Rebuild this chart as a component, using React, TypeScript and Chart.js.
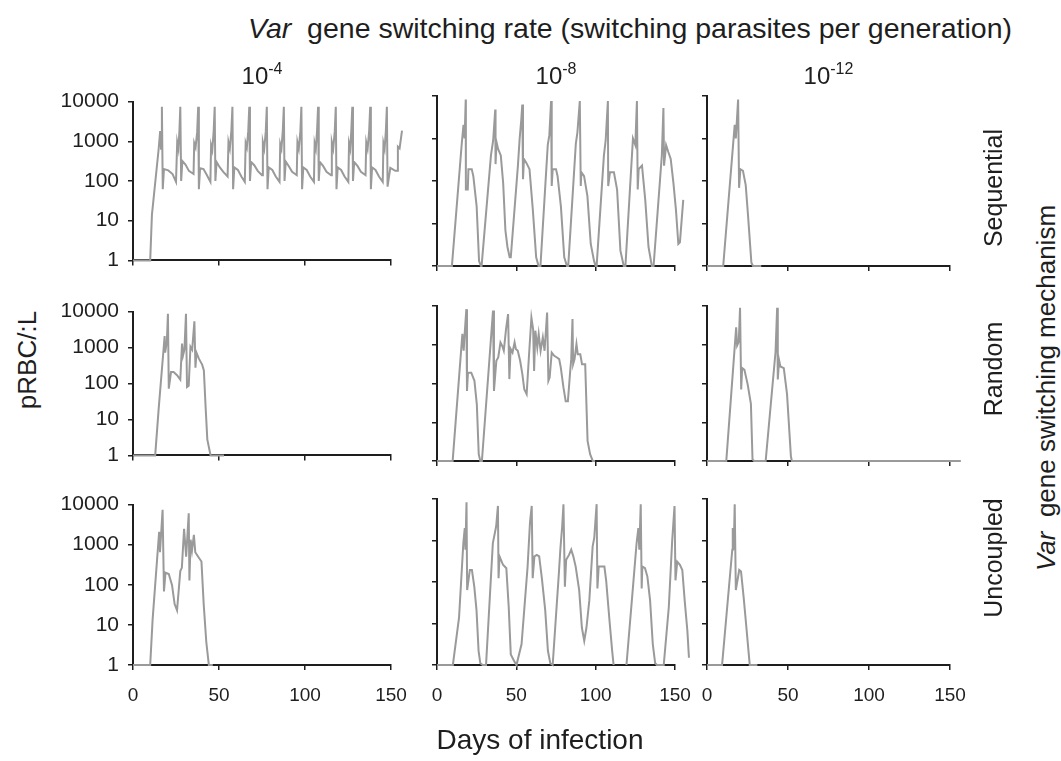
import React, { useEffect, useRef } from "react";
import { Chart, registerables } from "chart.js";
Chart.register(...registerables);

const FONT = '"Liberation Sans", Arial, Helvetica, sans-serif';

// ---------- tick labels / categories ----------
const xTicks = [0, 50, 100, 150];
const yTicks = [1, 10, 100, 1000, 10000];
const rateExponents = ["-4", "-8", "-12"];
const mechanisms = ["Sequential", "Random", "Uncoupled"];

// ---------- Sequential, 10^-4 ----------
const seq4Days = [
  0, 10, 11, 14.9, 15.8, 16.3, 16.8,
  17.3, 18, 20.5, 23, 25, 25.7, 26.4, 27, 27.5,
  28, 28.7, 30.5, 32.5, 35.2, 35.6, 36.4, 37.3, 37.9,
  38.3, 39, 41, 43, 45, 45.4, 46.1, 46.9, 47.5,
  47.9, 48.6, 50.5, 52.5, 55, 55.5, 56.3, 57.2, 57.8,
  58.2, 58.9, 61, 63, 65, 65.5, 66.2, 67, 67.6,
  68, 68.7, 70.5, 72.5, 75, 75.5, 76.3, 77.2, 77.8,
  78.2, 78.9, 81, 83, 85.2, 85.6, 86.3, 87.1, 87.7,
  88.1, 88.8, 90.5, 92.5, 95.2, 95.6, 96.4, 97.3, 97.9,
  98.3, 99, 101, 103, 105.2, 105.6, 106.3, 107, 107.6,
  108, 108.7, 110.5, 112.5, 115.2, 115.6, 116.4, 117.3, 117.9,
  118.3, 119, 121, 123, 125.2, 125.6, 126.3, 126.9, 127.5,
  127.9, 128.6, 130.5, 132.5, 135.2, 135.6, 136.4, 137.3, 137.9,
  138.3, 139, 141, 143, 145.2, 145.6, 146.3, 147, 147.6,
  148, 149.6, 152.5, 153.6, 154, 155, 156.4,
];
const seq4Vals = [
  1, 1, 14, 630, 1800, 650, 7400,
  62, 200, 185, 150, 95, 950, 650, 1900, 7400,
  100, 320, 260, 180, 150, 900, 700, 1700, 7400,
  62, 210, 200, 140, 95, 800, 600, 1800, 7400,
  100, 300, 220, 170, 130, 950, 650, 1900, 7400,
  62, 220, 190, 130, 95, 900, 700, 1800, 7400,
  100, 300, 250, 180, 140, 950, 650, 1800, 7400,
  62, 220, 190, 130, 95, 850, 650, 1900, 7400,
  100, 310, 240, 170, 140, 950, 650, 1800, 7400,
  62, 220, 190, 130, 95, 900, 650, 1800, 7400,
  100, 300, 240, 170, 140, 950, 650, 1800, 7400,
  62, 220, 190, 130, 95, 900, 650, 1800, 7400,
  100, 300, 240, 170, 140, 950, 650, 1800, 7400,
  62, 220, 190, 130, 95, 900, 650, 1800, 7400,
  72, 215, 180, 180, 730, 660, 1850,
];

// ---------- Sequential, 10^-8 ----------
const seq8Days = [
  0, 9.4, 15.6, 16.7, 17.4, 18.1, 18.2, 19.4, 19.8, 21.9, 22.9, 25, 26.5, 27.7, 28.1,
  34, 35.4, 36.7, 36.9, 37.5, 38.5, 40.2, 41.7, 43.1, 44.4, 45.8, 46.5,
  51, 52.1, 53.1, 53.75, 54.2, 54.8, 56.25, 58.3, 60.4, 62.5, 64, 65.2,
  69.8, 70.8, 71.9, 72.3, 72.9, 75, 76, 78.1, 80.2, 81.9, 82.7,
  87.5, 88.5, 90, 90.6, 91, 92.7, 94.8, 96.9, 99, 100, 100.6,
  105.2, 106.3, 107.7, 107.9, 109, 111.5, 113.5, 115.6, 117.7, 118.75,
  123.5, 125, 126, 126.5, 127.1, 129.2, 131.25, 133.3, 135.4, 136.5,
  141.7, 142.7, 143.1, 144.4, 145.8, 147.3, 149, 150.6, 152.1, 153.1, 155.2,
];
const seq8Vals = [
  1, 1, 760, 2100, 1000, 8300, 63, 63, 190, 190, 130, 25, 1.3, 1, 1,
  400, 900, 4800, 250, 830, 570, 400, 90, 7, 2.8, 1.6, 1.6,
  230, 1000, 2700, 6300, 110, 330, 270, 190, 21, 1.6, 1, 1,
  700, 1200, 7600, 76, 190, 190, 130, 25, 1.6, 1, 1,
  760, 1400, 7600, 76, 160, 130, 44, 3.3, 1.3, 1, 1,
  400, 900, 7600, 76, 160, 160, 63, 2.3, 1, 1,
  1000, 700, 7600, 63, 190, 230, 36, 2.8, 1, 1,
  400, 5200, 230, 700, 480, 330, 90, 21, 3.3, 3.6, 36,
];

// ---------- Sequential, 10^-12 ----------
const seq12Days = [0, 10, 17.1, 17.8, 19.2, 19.8, 20.6, 22.2, 23.9, 25.3, 27.4, 28.4, 33.5];
const seq12Vals = [1, 1, 2100, 1000, 8300, 69, 190, 174, 80, 16, 1.2, 1, 1];

// ---------- Random, 10^-4 ----------
const rand4Days = [
  0, 12.9, 14.9, 18.4, 18.7, 19.7, 20.3, 20.8, 22.1, 23.6, 25.6, 27.5, 28.5, 29.1, 29.9,
  30.8, 31.4, 32.4, 33.4, 34.4, 35.7, 36.3, 36.9, 38.3, 40.2, 41.2, 42.2, 43.2, 45.1, 52.9,
];
const rand4Vals = [
  1, 1, 19, 2100, 720, 1500, 8700, 72, 208, 208, 170, 128, 1290, 600, 870,
  8700, 80, 87, 1050, 870, 5400, 275, 720, 490, 335, 230, 23, 2.8, 1, 1,
];

// ---------- Random, 10^-8 ----------
const rand8Days = [
  0, 9.86, 16.0, 16.8, 17.5, 18.5, 18.9, 19.5, 21.6, 23.6, 25.1, 26.3, 27.3, 28.3,
  30.8, 33.9, 35.3, 35.9, 37.4, 38.6, 40.0, 41.1, 42.1, 43.5, 44.8, 45.6, 46.4, 47.6, 48.9, 49.7, 50.9, 52.4, 53.8, 55.0, 56.5,
  57.9, 59.5, 60.6, 61.2, 62.0, 63.2, 64.1, 65.3, 66.7, 67.8, 69.4, 70.2, 71.0, 72.3, 73.9, 75.6, 77.0, 78.0, 79.7, 81.1, 82.5,
  83.8, 84.6, 85.4, 85.8, 86.7, 87.9, 88.7, 90.3, 91.4, 93.4, 94.9, 96.5, 98.2, 99.6,
];
const rand8Vals = [
  1, 1, 1900, 700, 2100, 8300, 64, 190, 190, 117, 29, 1.5, 1, 1,
  24, 1260, 7600, 64, 385, 470, 1150, 940, 700, 2500, 6200, 130, 780, 630, 1150, 780, 700, 385, 174, 71, 53,
  470, 5000, 2500, 210, 2300, 850, 1900, 700, 1550, 700, 6800, 117, 142, 630, 520, 470, 425, 260, 79, 35, 35,
  175, 425, 4600, 315, 425, 1040, 570, 570, 315, 315, 3.3, 1.5, 1, 1,
];

// ---------- Random, 10^-12 ----------
const rand12Days = [
  0, 11.9, 18.0, 18.6, 19.6, 20.4, 21.1, 21.7, 23.1, 25.1, 27.1, 28.1, 29.1, 36.2,
  42.3, 43.3, 43.7, 44.5, 45.3, 47.4, 49.4, 51.8, 52.4, 156.7,
];
const rand12Vals = [
  1, 1, 2800, 960, 1200, 9000, 70, 250, 225, 95, 30, 1.1, 1, 1,
  650, 9000, 127, 400, 275, 250, 53, 1.3, 1, 1,
];

// ---------- Uncoupled, 10^-4 ----------
const unc4Days = [
  0, 10, 11.4, 15.2, 15.7, 17.2, 18, 18.9, 20.8, 22.7,
  24.2, 25.6, 27.5, 28.4, 29.7, 30.9, 32.4, 32.8, 33.5, 34.3,
  35.4, 36.2, 37.9, 39.8, 41.1, 42.6, 44.1, 46.4,
];
const unc4Vals = [
  1, 1, 13.5, 2100, 650, 7400, 68, 200, 185, 98,
  33, 23, 220, 265, 2500, 500, 6100, 128, 1330, 710,
  1750, 650, 500, 380, 33, 3.8, 1, 1,
];

// ---------- Uncoupled, 10^-8 ----------
const unc8Days = [
  0, 10, 13.9, 16.6, 17.5, 17.9, 18.6, 19, 20.7, 22, 23.5, 24.9, 26.2, 27.3, 28.8, 30.9,
  35.2, 37.3, 38.4, 38.8, 39.4, 41.6, 43.7, 45.2, 46.5, 48.6, 50.1,
  53.3, 57.1, 58.6, 59.7, 60.3, 61.4, 62.9, 64.4, 66.1, 68.2, 69.9, 71.4, 72.9,
  76.8, 77.8, 78.9, 79.7, 80.6, 81.4, 83.2, 84.6, 85.9, 87.4,
  89.6, 91.3, 92.8, 94.2, 96.0, 98.1, 99.1, 100.6, 101.1, 101.9,
  105.5, 106.6, 108.7, 110.4, 111.3,
  115,
  119.4, 123.7, 125.8, 126.9, 127.5, 128.4, 129.0, 129.4, 131.1, 132.6,
  134.3, 136.0, 137.5, 138.6, 142.9,
  146.1, 148.2, 149.7, 150.3, 151.4, 153.1, 154.6, 156.1, 157.8, 158.8,
];
const unc8Vals = [
  1, 1, 14, 870, 2000, 600, 8300, 64, 195, 195, 77, 21, 2.2, 1.1, 1, 1,
  870, 2200, 6800, 123, 415, 260, 215, 25, 1.8, 1.25, 1,
  3.2, 235, 2700, 6800, 123, 415, 450, 415, 123, 21, 2.2, 1.1, 1,
  160, 660, 2200, 7500, 77, 345, 450, 600, 415, 235,
  64, 8, 3.8, 8, 36, 720, 1150, 7500, 70, 235,
  235, 110, 12, 2.2, 1,
  null,
  1, 93, 870, 2000, 600, 7500, 70, 235, 215, 135,
  36, 3.2, 1.1, 1, 1,
  25, 950, 6800, 110, 310, 260, 195, 36, 6.7, 1.5,
];

// ---------- Uncoupled, 10^-12 ----------
const unc12Days = [0, 9.3, 15.6, 15.9, 16.5, 17.1, 17.8, 19.9, 21.0, 22.6, 24.1, 25.6, 26.4, 31.1];
const unc12Vals = [1, 1, 600, 2000, 600, 7500, 64, 195, 180, 44, 10, 2.2, 1, 1];

const seriesGrid = [
  [[seq4Days, seq4Vals], [seq8Days, seq8Vals], [seq12Days, seq12Vals]],
  [[rand4Days, rand4Vals], [rand8Days, rand8Vals], [rand12Days, rand12Vals]],
  [[unc4Days, unc4Vals], [unc8Days, unc8Vals], [unc12Days, unc12Vals]],
];

// ---------- layout (plot-area rectangles in page pixels) ----------
const COLS = [
  [133, 391],
  [437, 675],
  [707, 950],
];
const ROWS = [
  [96, 266],
  [306, 461],
  [499, 665],
];

const INK = "#1e1e1e";
const LINE = "#9a9a9a";

function Panel({ row, col }: { row: number; col: number }) {
  const ref = useRef<HTMLCanvasElement | null>(null);
  const [L, R] = COLS[col];
  const [T, B] = ROWS[row];
  const YW = col === 0 ? 80 : 26;
  const XH = row === 2 ? 48 : 16;
  const PT = 16;
  const PR = 36;
  const w = R - L + YW + PR;
  const h = B - T + PT + XH;
  const [days, vals] = seriesGrid[row][col] as [number[], (number | null)[]];

  useEffect(() => {
    if (!ref.current) return;
    const chart = new Chart(ref.current, {
      type: "line",
      data: {
        datasets: [
          {
            data: days.map((d, i) => ({ x: d, y: vals[i] })) as any,
            borderColor: LINE,
            borderWidth: 2,
            pointRadius: 0,
            tension: 0,
            clip: false as any,
            spanGaps: false,
          },
        ],
      },
      options: {
        animation: false,
        responsive: false,
        devicePixelRatio: 1,
        events: [],
        layout: { padding: { top: PT, right: PR, left: 0, bottom: 0 } },
        plugins: { legend: { display: false }, tooltip: { enabled: false } },
        scales: {
          x: {
            type: "linear",
            bounds: "data",
            afterDataLimits: (s: any) => {
              s.min = 0;
              s.max = 150;
            },
            afterBuildTicks: (s: any) => {
              s.ticks = xTicks.map((v) => ({ value: v }));
            },
            afterFit: (s: any) => {
              s.height = XH;
            },
            ticks: {
              display: row === 2,
              autoSkip: false,
              maxRotation: 0,
              padding: 14,
              color: INK,
              font: { family: FONT, size: 19 },
              callback: (v: any) => String(v),
            },
            grid: {
              display: true,
              drawOnChartArea: false,
              drawTicks: true,
              tickLength: 5,
              color: INK,
              lineWidth: 1.5,
            },
            border: { display: true, color: INK, width: 2 },
          },
          y: {
            type: "logarithmic",
            min: 1,
            max: 10000,
            afterBuildTicks: (s: any) => {
              s.ticks = yTicks.map((v) => ({ value: v }));
            },
            afterFit: (s: any) => {
              s.width = YW;
            },
            ticks: {
              display: col === 0,
              autoSkip: false,
              padding: 9,
              color: INK,
              font: { family: FONT, size: 21 },
              callback: (v: any) => String(v),
            },
            grid: {
              display: true,
              drawOnChartArea: false,
              drawTicks: true,
              tickLength: 5,
              color: INK,
              lineWidth: 1.5,
            },
            border: { display: true, color: INK, width: 2 },
          },
        },
      } as any,
    });
    return () => chart.destroy();
  }, []);

  return (
    <canvas
      ref={ref}
      width={w}
      height={h}
      style={{ position: "absolute", left: L - YW, top: T - PT, width: w, height: h }}
    />
  );
}

const textBase: React.CSSProperties = {
  position: "absolute",
  fontFamily: FONT,
  color: INK,
  whiteSpace: "nowrap",
  lineHeight: 1,
};

export default function App() {
  const panels: JSX.Element[] = [];
  for (let r = 0; r < 3; r++) {
    for (let c = 0; c < 3; c++) {
      panels.push(<Panel key={`${r}-${c}`} row={r} col={c} />);
    }
  }
  const colCenters = COLS.map(([a, b]) => (a + b) / 2);
  const rowLabelY = [188, 369, 558];
  return (
    <div
      style={{
        position: "absolute",
        left: 0,
        top: 0,
        width: 1061,
        height: 761,
        background: "#fff",
        overflow: "hidden",
      }}
    >
      {panels}
      <div
        style={{
          ...textBase,
          fontSize: 28.5,
          left: 630,
          top: 28,
          transform: "translate(-50%, -50%)",
        }}
      >
        <i>Var</i>&nbsp; gene switching rate (switching parasites per generation)
      </div>
      {rateExponents.map((e, i) => (
        <div
          key={e}
          style={{
            ...textBase,
            fontSize: 24,
            left: colCenters[i],
            top: 76,
            transform: "translate(-50%, -50%)",
          }}
        >
          10<span style={{ fontSize: 16, position: "relative", top: -10 }}>{e}</span>
        </div>
      ))}
      {mechanisms.map((m, i) => (
        <div
          key={m}
          style={{
            ...textBase,
            fontSize: 25,
            left: 993,
            top: rowLabelY[i],
            transform: "translate(-50%, -50%) rotate(-90deg)",
          }}
        >
          {m}
        </div>
      ))}
      <div
        style={{
          ...textBase,
          fontSize: 26,
          left: 1046,
          top: 388,
          transform: "translate(-50%, -50%) rotate(-90deg)",
        }}
      >
        <i>Var</i>&nbsp; gene switching mechanism
      </div>
      <div
        style={{
          ...textBase,
          fontSize: 26,
          left: 27,
          top: 360,
          transform: "translate(-50%, -50%) rotate(-90deg)",
        }}
      >
        pRBC/:L
      </div>
      <div
        style={{
          ...textBase,
          fontSize: 28,
          left: 540,
          top: 740,
          transform: "translate(-50%, -50%)",
        }}
      >
        Days of infection
      </div>
    </div>
  );
}
